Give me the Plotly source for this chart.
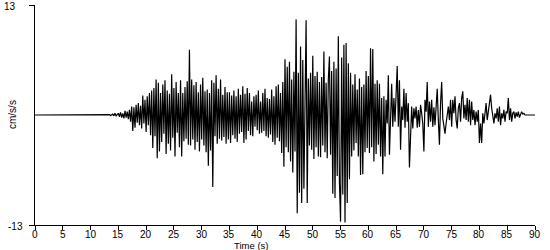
import plotly.graph_objects as go

dt = 0.2  # sample interval (s)

# acceleration values (cm/s/s), 5 samples per second
accel_rows = [
    [0.0, 0.0, 0.0, 0.0, 0.0],        # 0 s
    [0.0, 0.0, 0.0, 0.0, 0.0],        # 1
    [0.0, 0.0, 0.0, 0.0, 0.0],        # 2
    [0.0, 0.0, 0.0, 0.0, 0.0],        # 3
    [0.0, 0.0, 0.0, 0.0, 0.0],        # 4
    [0.0, 0.0, 0.0, 0.0, 0.0],        # 5
    [0.0, 0.0, 0.0, 0.0, 0.0],        # 6
    [0.0, 0.0, 0.0, 0.0, 0.0],        # 7
    [0.0, 0.0, 0.0, 0.0, 0.0],        # 8
    [0.0, 0.0, 0.0, 0.0, 0.0],        # 9
    [0.0, 0.0, 0.0, 0.0, 0.0],        # 10
    [0.0, 0.02, 0.0, -0.02, 0.0],     # 11
    [0.02, 0.0, -0.02, 0.0, 0.03],    # 12
    [0.0, -0.03, 0.05, -0.05, 0.0],   # 13
    [0.1, -0.1, 0.2, -0.1, 0.1],      # 14
    [0.2, -0.2, 0.3, -0.3, 0.2],      # 15
    [-0.4, 0.5, -0.3, 0.4, -0.5],     # 16
    [0.6, -0.8, 1.0, -1.9, 0.9],      # 17
    [-1.5, 1.2, -0.9, 1.4, -1.2],     # 18
    [1.1, -1.6, 2.3, -1.0, 1.8],      # 19
    [-2.0, 2.2, -1.2, 2.6, -2.4],     # 20
    [2.9, -3.9, 3.2, -2.5, 4.2],      # 21
    [-5.1, 3.8, -4.3, 2.6, -3.2],     # 22
    [3.6, -2.2, 4.1, -4.6, 2.9],      # 23
    [-3.4, 2.5, -4.2, 4.8, -2.7],     # 24
    [3.2, -4.9, 3.9, -2.1, 2.6],      # 25
    [-3.8, 4.1, -4.9, 2.6, -3.1],     # 26
    [3.3, -2.8, 4.0, -3.5, 7.7],      # 27
    [-3.6, 4.2, -2.9, 3.5, -4.1],     # 28
    [3.9, -3.2, 2.7, -4.3, 3.6],      # 29
    [-2.9, 4.4, -3.6, 2.8, -4.4],     # 30
    [3.0, -6.0, 2.6, -4.2, 4.1],      # 31
    [-8.5, 3.8, -2.5, 4.7, -3.4],     # 32
    [3.1, -2.8, 4.2, -3.0, 2.4],      # 33
    [-2.6, 3.3, -3.4, 2.7, -2.9],     # 34
    [2.7, -3.3, 2.3, -2.4, 2.9],      # 35
    [-2.8, 2.2, -3.2, 3.1, -2.2],     # 36
    [2.4, -2.0, 3.4, -3.3, 2.5],      # 37
    [-2.9, 3.2, -1.9, 2.6, -2.4],     # 38
    [1.6, -2.5, 2.2, -1.4, 2.4],      # 39
    [-1.8, 2.9, -2.2, 1.6, -2.1],     # 40
    [2.6, -1.9, 3.1, -2.5, 2.0],      # 41
    [-2.7, 1.9, -2.3, 3.0, -3.2],     # 42
    [2.2, -3.5, 3.4, -2.7, 3.6],      # 43
    [-3.1, 2.6, -4.5, 3.9, -6.1],     # 44
    [6.6, -3.8, 5.7, -4.4, 6.3],      # 45
    [-5.5, 4.2, -6.8, 5.1, -4.3],     # 46
    [11.3, -11.6, 5.0, -9.2, 8.1],    # 47
    [-10.4, 6.5, -8.7, 4.8, 11.2],    # 48
    [-10.4, 4.3, -3.6, 5.0, -4.1],    # 49
    [7.0, -5.2, 4.6, -3.8, 5.1],      # 50
    [-4.9, 3.9, -5.0, 4.5, -3.6],     # 51
    [7.5, -4.4, 3.8, -5.1, 4.2],      # 52
    [6.9, -4.7, 5.2, -9.3, 6.3],      # 53
    [-9.8, 5.5, -7.2, 9.3, -8.0],     # 54
    [-12.6, 6.8, -9.4, 8.3, -12.7],   # 55
    [8.5, -10.4, 6.1, -7.6, 5.0],     # 56
    [-4.9, 3.6, -4.2, 4.8, -3.3],     # 57
    [3.0, -4.9, 4.3, -7.1, 3.3],      # 58
    [-7.0, 3.6, -4.4, 5.2, -3.9],     # 59
    [4.6, -4.5, 7.9, -3.8, 7.8],      # 60
    [-5.5, 3.7, -4.6, 4.1, -3.5],     # 61
    [3.7, -4.9, 2.0, -7.0, 2.2],      # 62
    [-4.9, 1.8, -1.0, 4.7, -4.7],     # 63
    [1.2, 3.7, -1.4, 2.0, -0.8],      # 64
    [2.4, 5.8, -1.4, 4.1, -4.1],      # 65
    [1.0, -0.6, 3.1, -1.5, 2.6],      # 66
    [-0.8, 1.4, -6.2, -1.2, 1.0],     # 67
    [-1.6, 0.8, -0.4, 1.0, -1.5],     # 68
    [0.6, -1.4, 1.2, 0.2, -1.0],      # 69
    [-4.3, 1.8, 0.4, 3.9, -1.4],      # 70
    [1.6, -0.8, 1.8, -1.4, 0.9],      # 71
    [-1.2, 1.2, 3.1, -0.6, -3.5],     # 72
    [1.4, 3.9, -0.4, -1.2, -2.2],     # 73
    [-1.0, 0.4, 1.0, -0.6, 1.8],      # 74
    [-1.4, 1.8, 0.2, 2.2, -0.6],      # 75
    [-1.6, 0.8, 1.4, -0.8, 2.0],      # 76
    [2.8, -0.4, 1.2, -0.6, 2.0],      # 77
    [-0.8, 1.8, -1.2, 1.6, -0.6],     # 78
    [0.6, -1.2, 0.4, -0.8, 0.6],      # 79
    [-3.3, -1.0, -3.3, 0.2, -1.0],    # 80
    [0.2, 1.4, -0.6, 0.6, 1.8],       # 81
    [2.4, 0.8, -0.4, -1.0, 0.2],      # 82
    [-0.4, 0.8, -0.8, 1.0, -1.2],     # 83
    [0.2, -0.4, 0.6, -0.8, 0.4],      # 84
    [0.2, 2.0, -0.6, 0.8, -0.8],      # 85
    [0.2, 0.4, -0.4, 0.3, -0.2],      # 86
    [0.4, -0.3, 0.2, 0.4, 0.1],       # 87
    [0.2, 0.0, 0.0, 0.0, 0.0],        # 88
    [0.0, 0.0, 0.0, 0.0, 0.0],        # 89
    [0.0],                            # 90
]

x_ticks = [0, 5, 10, 15, 20, 25, 30, 35, 40, 45, 50, 55, 60, 65, 70, 75, 80, 85, 90]
y_ticks = [-13, 13]
y_tick_labels = ["-13", "13"]

accel = [v for row in accel_rows for v in row]
time = [round(i * dt, 1) for i in range(len(accel))]

FONT = "Liberation Sans, Arial, sans-serif"

fig = go.Figure()
fig.add_trace(go.Scatter(x=time, y=accel, mode="lines",
                         line=dict(color="black", width=1.2),
                         hoverinfo="skip", showlegend=False))

annotations = []
# y tick labels as annotations so the top one is not dropped at the edge
for v, lab in zip(y_ticks, y_tick_labels):
    annotations.append(dict(
        text=lab, xref="paper", yref="y", x=0, y=v,
        xanchor="right", yanchor="middle", borderpad=0,
        xshift=-11 if v < 0 else -18, yshift=-1,
        showarrow=False, font=dict(size=10)))
# x tick labels as annotations for tight placement under the ticks
for v in x_ticks:
    annotations.append(dict(
        text=str(v), xref="x", yref="paper", x=v, y=0,
        xanchor="center", yanchor="top", yshift=-3, borderpad=0,
        showarrow=False, font=dict(size=10)))
annotations += [
    dict(text="cm/s/s", textangle=-90, xref="paper", yref="paper",
         x=-0.046, y=0.5, xanchor="center", yanchor="middle", borderpad=0,
         showarrow=False, font=dict(size=10)),
    dict(text="Time (s)", xref="paper", yref="paper",
         x=0.432, y=0, xanchor="center", yanchor="top", yshift=-14,
         borderpad=0, showarrow=False, font=dict(size=9.5)),
]

fig.update_layout(
    width=550, height=250,
    margin=dict(l=35, r=15, t=5, b=25),
    paper_bgcolor="white", plot_bgcolor="white",
    font=dict(family=FONT, size=10, color="black"),
    xaxis=dict(range=[0, 90], tickvals=x_ticks, ticks="outside", ticklen=4,
               tickcolor="black", showline=True, linecolor="black", linewidth=1,
               showgrid=False, zeroline=False, showticklabels=False),
    yaxis=dict(range=[-13, 13], tickvals=y_ticks, ticks="outside", ticklen=5,
               tickcolor="black", showline=True, linecolor="black", linewidth=1,
               showgrid=False, zeroline=False, showticklabels=False),
    annotations=annotations,
)

fig.write_html("out.html")
